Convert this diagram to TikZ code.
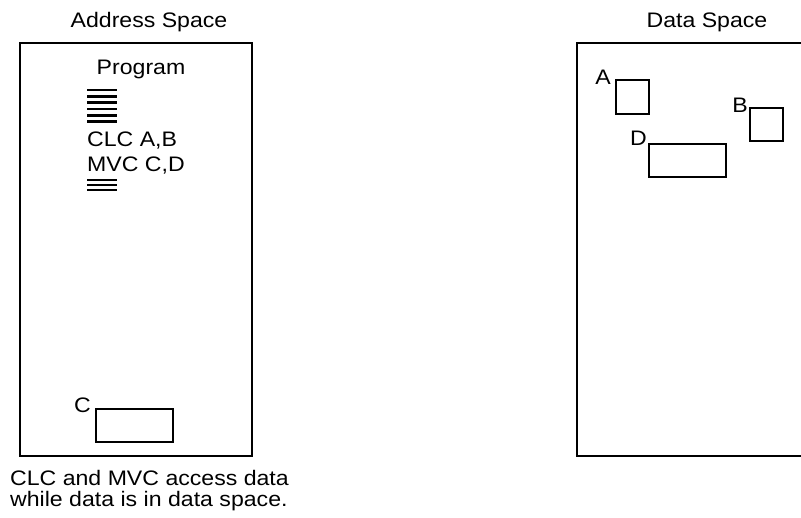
\documentclass[tikz,border=0pt]{standalone}
\usepackage{fontspec}
\setmainfont{Liberation Sans}[FakeStretch=1.1]
\usetikzlibrary{positioning}

\begin{document}
\begin{tikzpicture}[x=1pt,y=-1pt,
  space/.style={draw,line width=2.6pt,inner sep=0pt},
  cell/.style={draw,line width=2.2pt,inner sep=0pt},
  txt/.style={font=\fontsize{21}{21.5}\selectfont,inner sep=0pt},
  bar/.style={line width=2.2pt}
]
\useasboundingbox (0,0) rectangle (801,518);
% the two spaces
\node[txt,anchor=base] (addr) at (149,28) {Address Space};
\node[txt,anchor=base] (data) at (707,28) {Data Space};
\node[space,minimum width=232,minimum height=413] (aspace) at (136,249.5) {};
\node[space,minimum width=253,minimum height=413] (dspace) at (703.5,249.5) {};
% program listing
\node[txt,anchor=base] (prog) at (141,75) {Program};
\foreach \y in {90,96.5,102.5,109,115.5,121.5,180,185,190}
  \draw[bar] (87,\y) -- (117,\y);
\node[txt,anchor=base west] (clc) at (87,147) {CLC A,B};
\node[txt,anchor=base west] (mvc) at (87,172) {MVC C,D};
% operands
\node[cell,minimum width=77,minimum height=33] (C) at (134.5,425.5) {};
\node[txt,anchor=base east] (Clab) at (91,413) {C};
\node[cell,minimum width=33,minimum height=34] (A) at (632.5,97) {};
\node[txt,anchor=base east] (Alab) at (611,85) {A};
\node[cell,minimum width=33,minimum height=33] (B) at (766.5,124.5) {};
\node[txt,anchor=base east] (Blab) at (748,113) {B};
\node[cell,minimum width=77,minimum height=33] (D) at (687.5,160.5) {};
\node[txt,anchor=base east] (Dlab) at (647,146) {D};
\node[txt,anchor=base west,align=left] (note) at (10,507)
  {CLC and MVC access data\\while data is in data space.};
\end{tikzpicture}
\end{document}
